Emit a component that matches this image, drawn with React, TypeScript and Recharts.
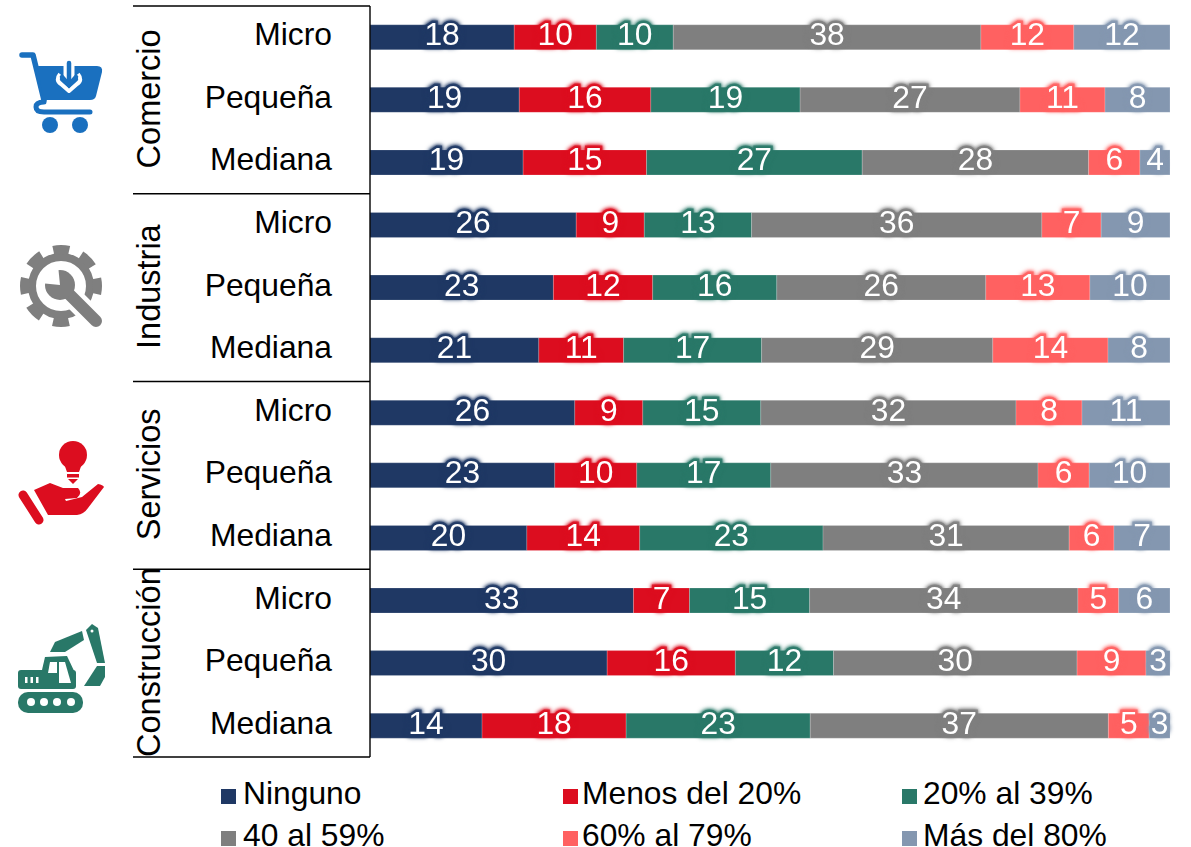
import { FC } from 'react';
import { Bar, BarChart, LabelList, Legend, XAxis, YAxis } from 'recharts';

const groups = ['Comercio', 'Industria', 'Servicios', 'Construcción'];
const sizes = ['Micro', 'Pequeña', 'Mediana'];

const ninguno = [18, 18.6, 19.1, 25.75, 22.9, 21.1, 25.6, 23.1, 19.6, 32.9, 29.6, 14];
const menos20 = [10.25, 16.4, 15.4, 8.5, 12.4, 10.6, 8.5, 10.25, 14.1, 7, 16, 18];
const de20a39 = [9.6, 18.6, 26.9, 13.4, 15.5, 17.25, 14.75, 16.75, 22.9, 15, 12.25, 23];
const de40a59 = [38.4, 27.4, 28.25, 36.25, 26.1, 28.9, 31.9, 33.4, 30.75, 33.5, 30.4, 37.25];
const de60a79 = [11.6, 10.6, 6.4, 7.4, 13, 14.4, 8.25, 6.4, 5.6, 5.1, 8.6, 5.1];
const mas80 = [12, 8.1, 3.75, 8.6, 10, 7.75, 11, 10.1, 7, 6.4, 3, 2.6];

const seriesNames = ['Ninguno', 'Menos del 20%', '20% al 39%', '40 al 59%', '60% al 79%', 'Más del 80%'];
const seriesValues = [ninguno, menos20, de20a39, de40a59, de60a79, mas80];
const seriesColors = ['#1F3864', '#DC0D1F', '#297868', '#7F7F7F', '#FF6161', '#8497B0'];

const data = ninguno.map((_, i) => {
    const row: Record<string, number | string> = { id: i };
    seriesNames.forEach((name, s) => {
        row[name] = seriesValues[s][i];
    });
    return row;
});

const FONT = '"Liberation Sans", Arial, sans-serif';
const FONT_SIZE = 31.8;
const ROW_HEIGHT = 751 / 12;

const Tick: FC<any> = ({ x, y, payload }) => {
    const i = payload.value as number;
    const pos = i % 3;
    return (
        <g>
            <text x={x - 38} y={y - 3} dy={11} textAnchor='end' fontSize={FONT_SIZE} fill='#000' fontFamily={FONT}>
                {sizes[pos]}
            </text>
            {pos === 0 && (
                <line x1={x - 237} x2={x} y1={y - ROW_HEIGHT / 2} y2={y - ROW_HEIGHT / 2} stroke='#000' strokeWidth={1.4} />
            )}
            {i === 11 && (
                <line x1={x - 237} x2={x} y1={y + ROW_HEIGHT / 2} y2={y + ROW_HEIGHT / 2} stroke='#000' strokeWidth={1.4} />
            )}
            {pos === 1 && (
                <text
                    transform={`translate(160 ${y - 1}) rotate(-90)`}
                    textAnchor='middle'
                    fontSize={32.5}
                    fill='#000'
                    fontFamily={FONT}
                >
                    {groups[(i - 1) / 3]}
                </text>
            )}
        </g>
    );
};

const glowLabel = (color: string) => (props: any) => {
    const { x, y, width, height, value } = props;
    return (
        <text
            x={x + width / 2}
            y={y + height / 2 - 3}
            dy={11}
            textAnchor='middle'
            fontSize={FONT_SIZE}
            fill='#fff'
            stroke={color}
            strokeWidth={5}
            strokeOpacity={0.75}
            paintOrder='stroke'
            fontFamily={FONT}
            style={{
                filter: `drop-shadow(0 0 2px ${color}) drop-shadow(0 0 1.5px ${color})`,
            }}
        >
            {Math.round(Number(value))}
        </text>
    );
};

const legendX = [221, 563, 902];
const legendTextX = [243, 582, 923];
const legendY = [32, 74];

const LegendBox: FC = () => (
    <div style={{ position: 'relative', width: 1191, height: 90, fontFamily: FONT, fontSize: FONT_SIZE, color: '#000' }}>
        {seriesNames.map((name, i) => {
            const col = i % 3;
            const top = legendY[Math.floor(i / 3)];
            return (
                <div key={name}>
                    <div
                        style={{
                            position: 'absolute',
                            left: legendX[col],
                            top,
                            width: 15,
                            height: 15,
                            background: seriesColors[i],
                        }}
                    />
                    <div
                        style={{
                            position: 'absolute',
                            left: legendTextX[col],
                            top: top - 9,
                            lineHeight: '26px',
                            whiteSpace: 'nowrap',
                        }}
                    >
                        {name}
                    </div>
                </div>
            );
        })}
    </div>
);

// pictogramas de la izquierda
const Icons: FC = () => (
    <svg width={1191} height={847} style={{ position: 'absolute', left: 0, top: 0 }}>
        {/* carrito */}
        <g fill='#1A70BF' stroke='none'>
            <path d='M22,55 H33 L44,100' fill='none' stroke='#1A70BF' strokeWidth={5.5} strokeLinecap='round' strokeLinejoin='round' />
            <path d='M38,66 H97 Q103,66 102,72 L96,96 Q95,100 90,100 H43 Z' />
            <path d='M90,112 H44 Q36,112 36,107 Q36,102 44,102' fill='none' stroke='#1A70BF' strokeWidth={5} strokeLinecap='round' />
            <circle cx={50} cy={125} r={8} />
            <circle cx={80} cy={125} r={8} />
            <path d='M69,66 V80' fill='none' stroke='#fff' strokeWidth={11} />
            <path d='M60,74 Q55,80 61,84 L69,91 L77,84 Q83,80 78,74' fill='none' stroke='#fff' strokeWidth={4} strokeLinejoin='round' />
            <path d='M69,63 V82' fill='none' stroke='#1A70BF' strokeWidth={4.5} strokeLinecap='round' />
            <path d='M62,77 L69,85 L76,77' fill='none' stroke='#1A70BF' strokeWidth={4.5} strokeLinecap='round' />
        </g>
        {/* engrane y llave */}
        <g fill='none'>
            <circle cx={61} cy={286} r={29} stroke='#7F7F7F' strokeWidth={8} />
            <circle
                cx={61}
                cy={286}
                r={36.5}
                stroke='#7F7F7F'
                strokeWidth={9}
                strokeDasharray='16 12.66'
                strokeDashoffset={8}
            />
            <path d='M66,291 L98,323' stroke='#fff' strokeWidth={21} />
            <path d='M66,291 L96,321' stroke='#7F7F7F' strokeWidth={12} strokeLinecap='round' />
            <circle cx={60} cy={285} r={15} fill='#7F7F7F' />
            <path d='M60,285 L58,265 L40,283 Z' fill='#fff' />
        </g>
        {/* mano y foco */}
        <g fill='#DC0D1F'>
            <circle cx={73} cy={455} r={14} />
            <path d='M63,461 H83 L79,472 H67 Z' />
            <rect x={67} y={474} width={12} height={3.5} />
            <path d='M68,479 H78 L73,484 Z' />
            <path d='M23,495 L39,520' stroke='#DC0D1F' strokeWidth={9} strokeLinecap='round' />
            <path d='M34,490 L50,483 L63,488 L78,488 Q83,493 77,498 L65,499 L66,501 L82,497 L98,484 Q103,485 104,487 L88,508 Q84,514 77,515 L48,515 Z' />
        </g>
        {/* excavadora */}
        <g fill='#297868'>
            <rect x={18} y={692} width={65} height={21} rx={10} />
            <circle cx={31} cy={702} r={4} fill='#fff' />
            <circle cx={44} cy={702} r={4} fill='#fff' />
            <circle cx={57} cy={702} r={4} fill='#fff' />
            <circle cx={71} cy={702} r={4} fill='#fff' />
            <rect x={18} y={670} width={58} height={19} rx={3} />
            <path d='M42,670 L45,657 L67,656 L76,675 Z' />
            <path d='M48,673 L50,662 L57,662 L57,673 Z' fill='#fff' />
            <path d='M59,662 L65,662 L71,683 L59,683 Z' fill='#fff' />
            <rect x={25} y={677} width={2.5} height={6} fill='#fff' />
            <rect x={30.5} y={677} width={2.5} height={6} fill='#fff' />
            <rect x={36} y={677} width={2.5} height={6} fill='#fff' />
            <path d='M50,652 L55,642 L82,631 L84,640 L65,652 Z' />
            <path d='M86,630 L92,624 L98,628 L105,663 L97,663 Z' />
            <circle cx={92} cy={631} r={1.5} fill='#fff' />
            <path d='M97,666 L105,666 L105,677 L100,686 L84,686 Z' />
        </g>
    </svg>
);

export default function App() {
    return (
        <div style={{ position: 'absolute', left: 0, top: 0, width: 1191, height: 847, overflow: 'hidden', background: '#fff' }}>
            <Icons />
            <div style={{ position: 'absolute', left: 0, top: 0 }}>
                <BarChart
                    width={1191}
                    height={847}
                    data={data}
                    layout='vertical'
                    stackOffset='expand'
                    barCategoryGap='30%'
                    margin={{ top: 6, right: 21, bottom: 0, left: 133 }}
                >
                    <XAxis type='number' hide domain={[0, 1]} />
                    <YAxis
                        type='category'
                        dataKey='id'
                        width={237}
                        interval={0}
                        tickLine={false}
                        tickSize={0}
                        tickMargin={0}
                        axisLine={{ stroke: '#000', strokeWidth: 1.4 }}
                        tick={<Tick />}
                    />
                    <Legend
                        verticalAlign='bottom'
                        content={<LegendBox />}
                        wrapperStyle={{ left: 0, width: 1191, bottom: 0 }}
                    />
                    {seriesNames.map((name, s) => (
                        <Bar
                            key={name}
                            dataKey={name}
                            stackId='a'
                            fill={seriesColors[s]}
                            stroke='#fff'
                            strokeOpacity={0.3}
                            strokeWidth={0.6}
                            isAnimationActive={false}
                        >
                            <LabelList dataKey={name} content={glowLabel(seriesColors[s])} />
                        </Bar>
                    ))}
                </BarChart>
            </div>
        </div>
    );
}
